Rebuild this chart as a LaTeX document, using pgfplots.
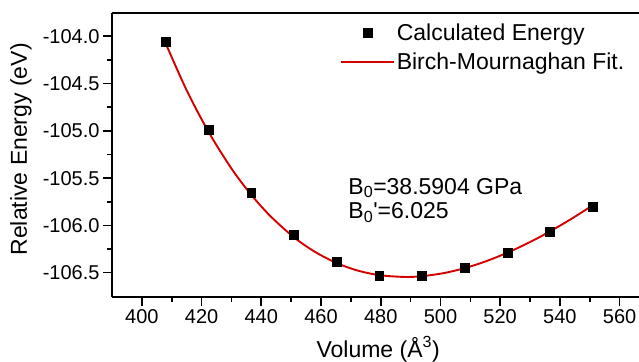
\documentclass[border=0pt]{standalone}
\usepackage{fontspec}
\setmainfont{Liberation Sans}
\usepackage{pgfplots}
\pgfplotsset{compat=1.18}
\definecolor{fitred}{RGB}{214,0,0}
\pgfplotsset{
  markleg/.style={legend image code/.code={\path[draw=none,fill=none] (0pt,0pt) -- (53pt,0pt); \draw[##1, only marks] plot coordinates {(26.5pt,0pt)};}},
  lineleg/.style={legend image code/.code={\draw[##1] (0pt,0pt) -- (53pt,0pt);}},
}
\begin{document}
\begin{tikzpicture}
\path[use as bounding box] (-112pt,-64pt) rectangle (527pt,297pt);
\begin{axis}[
  at={(0pt,0pt)}, anchor=south west,
  scale only axis, width=527pt, height=284pt,
  xmin=390, xmax=566.5, ymin=-106.757, ymax=-103.754,
  axis lines*=left,
  axis line style={line width=2pt},
  every tick/.style={black, line width=1.6pt},
  major tick length=9pt, minor tick length=5pt,
  tick align=outside,
  xtick={400,420,440,460,480,500,520,540,560}, minor x tick num=1,
  ytick={-106.5,-106,-105.5,-105,-104.5,-104}, minor y tick num=1,
  yticklabel style={/pgf/number format/.cd, fixed, fixed zerofill, precision=1},
  xticklabel style={/pgf/number format/.cd, 1000 sep={}},
  /pgf/number format/assume math mode=true,
  tick label style={font=\fontsize{20}{24}\selectfont},
  every axis x label/.style={at={(axis description cs:0.505,0)}, anchor=base, yshift=-60pt, font=\fontsize{23}{27}\selectfont},
  every axis y label/.style={at={(axis description cs:-0.1613,0.52)}, rotate=90, anchor=base, font=\fontsize{23}{27}\selectfont},
  xlabel={Volume (Å\textsuperscript{3})},
  ylabel={Relative Energy (eV)},
  legend style={at={(rel axis cs:0.433,0.968)}, anchor=north west, draw=none, fill=none,
    font=\fontsize{23}{27}\selectfont, inner sep=0pt, row sep=8pt,
    nodes={inner sep=1.5pt},
    /tikz/every even column/.append style={column sep=6pt}},
  legend cell align=left,
  clip=false,
]
\addplot[only marks, mark=square*, mark size=4.4pt, black, markleg]
  coordinates {
  (408.0,-104.057) (422.3,-104.984) (436.6,-105.654) (450.9,-106.101)
  (465.2,-106.380) (479.5,-106.531) (493.8,-106.530) (508.1,-106.447)
  (522.4,-106.292) (536.7,-106.070) (551.0,-105.800)};
\addlegendentry{Calculated Energy}
\addplot[fitred, line width=1.9pt, smooth, no marks, lineleg]
  coordinates {
  (408,-104.077) (415,-104.571) (422.3,-105.009) (430,-105.398) (436.6,-105.675)
  (443,-105.900) (450.9,-106.125) (458,-106.280) (465.2,-106.397) (472,-106.475)
  (479.5,-106.526) (488,-106.545) (493.8,-106.537) (501,-106.505) (508.1,-106.452)
  (515,-106.382) (522.4,-106.289) (530,-106.176) (536.7,-106.063) (544,-105.928)
  (551,-105.787)};
\addlegendentry{Birch-Mournaghan Fit.}
\draw[line width=2pt] (rel axis cs:0,1) -- (rel axis cs:1,1);
\node[anchor=base west, font=\fontsize{23}{27}\selectfont] at (rel axis cs:0.442,0.362) {B\textsubscript{0}=38.5904 GPa};
\node[anchor=base west, font=\fontsize{23}{27}\selectfont] at (rel axis cs:0.442,0.275) {B\textsubscript{0}\textquotesingle=6.025};
\end{axis}
\end{tikzpicture}
\end{document}
